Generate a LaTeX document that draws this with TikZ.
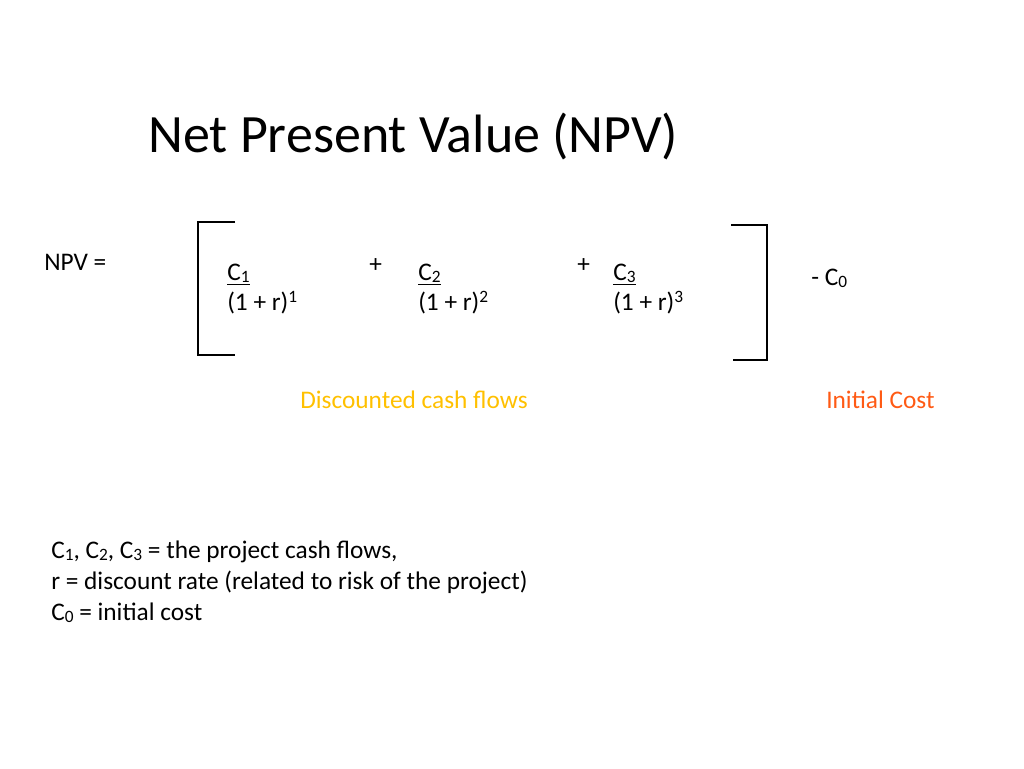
\documentclass[tikz,border=0pt]{standalone}
\usepackage{fontspec}
\setmainfont{Carlito}
\newcommand{\sbs}[1]{\raisebox{-0.2ex}{\fontsize{13}{15}\selectfont #1}}
\newcommand{\sps}[1]{\raisebox{0.6ex}{\fontsize{13}{15}\selectfont #1}}
\definecolor{dyel}{HTML}{FFC000}
\definecolor{iorg}{HTML}{FF5A14}
\begin{document}
\begin{tikzpicture}[x=0.75pt,y=-0.75pt,
  txt/.style={inner sep=0pt,anchor=base west,font=\fontsize{19}{23}\selectfont},
  brk/.style={line width=2pt}]
\useasboundingbox (0,0) rectangle (1024,768);
\node[inner sep=0pt,anchor=base west,font=\fontsize{40.5}{48}\selectfont] (title) at (148,152) {Net Present Value (NPV)};
\node[txt] (npv) at (44,270) {NPV =};
\coordinate (l1) at (235,222); \coordinate (l2) at (198,222); \coordinate (l3) at (198,355); \coordinate (l4) at (235,355);
\draw[brk] (l1) -- (l2) -- (l3) -- (l4);
\coordinate (r1) at (731,225); \coordinate (r2) at (767,225); \coordinate (r3) at (767,360); \coordinate (r4) at (733,360);
\draw[brk] (r1) -- (r2) -- (r3) -- (r4);
\node[txt] (c1) at (227,280) {\underline{C\sbs{1}}};
\node[txt] (d1) at (227,310) {(1 + r)\sps{1}};
\node[txt] (p1) at (369,272) {+};
\node[txt] (c2) at (418,280) {\underline{C\sbs{2}}};
\node[txt] (d2) at (418,310) {(1 + r)\sps{2}};
\node[txt] (p2) at (577,272) {+};
\node[txt] (c3) at (613,280) {\underline{C\sbs{3}}};
\node[txt] (d3) at (613,310) {(1 + r)\sps{3}};
\node[txt] (c0) at (811,285) {- C\sbs{0}};
\node[txt,text=dyel] (dcf) at (300,408) {Discounted cash flows};
\node[txt,text=iorg] (ic) at (826,408) {Initial Cost};
\node[txt] (n1) at (51,558) {C\sbs{1}, C\sbs{2}, C\sbs{3} = the project cash flows,};
\node[txt] (n2) at (51,589) {r = discount rate (related to risk of the project)};
\node[txt] (n3) at (51,620) {C\sbs{0} = initial cost};
\end{tikzpicture}
\end{document}
